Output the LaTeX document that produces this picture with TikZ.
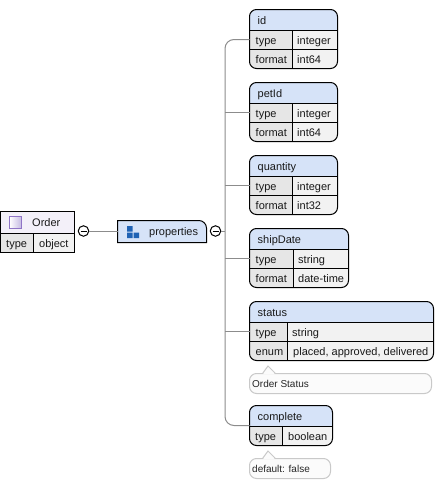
\documentclass[tikz,border=0pt]{standalone}
\usepackage{fontspec}
\setmainfont{Liberation Sans}
\definecolor{headblue}{HTML}{D6E3F8}
\definecolor{keygray}{HTML}{E6E6E6}
\definecolor{valgray}{HTML}{F2F2F2}
\definecolor{wiregray}{HTML}{8C8C8C}
\definecolor{notegray}{HTML}{C9C9C9}
\definecolor{notefill}{HTML}{FBFBFB}
\definecolor{orderhead}{HTML}{F3F0F9}
\definecolor{iconblue}{HTML}{1F62B4}
\definecolor{iconedge}{HTML}{8F74C6}
\definecolor{iconshade}{HTML}{C4B8E2}
\tikzset{
  lbl/.style={font=\fontsize{11}{13}\selectfont,inner sep=0pt,anchor=base west,text=black!90},
  notelbl/.style={font=\fontsize{10}{12}\selectfont,inner sep=0pt,anchor=base west,text=black!85},
  frame/.style={draw=black,line width=1pt,inner sep=0pt,outer sep=0pt,anchor=north west,rounded corners=7pt},
  sep/.style={draw=black,line width=1pt},
  wire/.style={draw=wiregray,line width=1pt},
  notebox/.style={draw=notegray,fill=notefill,line width=1pt,rounded corners=7pt},
  minusbtn/.style={circle,draw=black,line width=1pt,fill=white,minimum size=10.5pt,inner sep=0pt,outer sep=0pt},
}
% #1 name #2 title #3 xl #4 xc #5 xr #6 ytop
\newcommand{\proptwo}[8]{%
  \begin{scope}
    \clip[rounded corners=7pt] (#3,#6) rectangle (#5,#6+59);
    \fill[headblue] (#3,#6) rectangle (#5,#6+21);
    \fill[keygray] (#3,#6+21) rectangle (#4,#6+59);
    \fill[valgray] (#4,#6+21) rectangle (#5,#6+59);
  \end{scope}
  \draw[sep] (#3,#6+21) -- (#5,#6+21);
  \draw[sep] (#3,#6+40) -- (#5,#6+40);
  \draw[sep] (#4,#6+21) -- (#4,#6+59);
  \node[frame,minimum width={(#5-#3)*1pt},minimum height=59pt] (#1) at (#3,#6) {};
  \node[lbl] (#1-title) at (#3+8,#6+15) {#2};
  \node[lbl] (#1-k1) at (#3+6,#6+34.5) {type};
  \node[lbl] (#1-v1) at (#4+4.5,#6+34.5) {#7};
  \node[lbl] (#1-k2) at (#3+6,#6+53.5) {#8};
  \coordinate (#1-in) at (#3,#6+30);
}
% #1 left #2 right #3 top
\newcommand{\notepanel}[3]{%
  \draw[notebox] (#1,#3) rectangle (#2,#3+20);
  \fill[notefill] (#1+13.5,#3+0.8) -- (#1+18.5,#3-7.5) -- (#1+25.5,#3+0.8) -- cycle;
  \draw[draw=notegray,line width=1pt] (#1+13,#3) -- (#1+18.5,#3-7.5) -- (#1+26,#3);
}
\begin{document}
\begin{tikzpicture}[x=1pt,y=-1pt]
\useasboundingbox (0,0) rectangle (439,482);
\fill[white] (0,0) rectangle (439,482);

% property boxes
\proptwo{id}{id}{249.5}{292.5}{337.5}{9.5}{integer}{format}
\node[lbl] (id-v2) at (297,63) {int64};
\proptwo{petid}{petId}{249.5}{292.5}{337.5}{82.5}{integer}{format}
\node[lbl] (petid-v2) at (297,136) {int64};
\proptwo{quantity}{quantity}{249.5}{292.5}{337.5}{155.5}{integer}{format}
\node[lbl] (quantity-v2) at (297,209) {int32};
\proptwo{shipdate}{shipDate}{249.5}{293.5}{348.5}{228.5}{string}{format}
\node[lbl] (shipdate-v2) at (298,282) {date-time};
\proptwo{status}{status}{249.5}{287.5}{433.5}{301.5}{string}{enum}
\node[lbl] (status-v2) at (293,355) {placed, approved, delivered};

% complete (one row)
\begin{scope}
  \clip[rounded corners=7pt] (249.5,405.5) rectangle (332.5,445.5);
  \fill[headblue] (249.5,405.5) rectangle (332.5,426);
  \fill[keygray] (249.5,426) rectangle (282.5,445.5);
  \fill[valgray] (282.5,426) rectangle (332.5,445.5);
\end{scope}
\draw[sep] (249.5,426) -- (332.5,426);
\draw[sep] (282.5,426) -- (282.5,445.5);
\node[frame,minimum width=83pt,minimum height=40pt] (complete) at (249.5,405.5) {};
\node[lbl] (complete-title) at (257.5,420) {complete};
\node[lbl] (complete-k1) at (255,440) {type};
\node[lbl] (complete-v1) at (288,440) {boolean};
\coordinate (complete-in) at (249.5,425.5);

% notes
\notepanel{249.5}{431.5}{373.5}
\node[notelbl] (status-note) at (252,387) {Order Status};
\notepanel{249.5}{330.5}{458.5}
\node[notelbl] (complete-note) at (252,472) {default: false};

% Order
\fill[orderhead] (0.5,211.5) rectangle (74.5,233);
\fill[keygray] (0.5,233) rectangle (33.5,252.5);
\fill[valgray] (33.5,233) rectangle (74.5,252.5);
\draw[sep] (0.5,233) -- (74.5,233);
\draw[sep] (33.5,233) -- (33.5,252.5);
\node[frame,rounded corners=0pt,minimum width=74pt,minimum height=41pt] (order) at (0.5,211.5) {};
\node[rectangle,draw=iconedge,left color=white,right color=iconshade,line width=1pt,minimum size=12pt,inner sep=0pt] (order-icon) at (15.5,222.5) {};
\node[lbl] (order-title) at (32,226) {Order};
\node[lbl] (order-k) at (6,247) {type};
\node[lbl] (order-v) at (39,247) {object};

% properties
\draw[draw=black,fill=headblue,line width=1pt] (117.5,220.5) -- (199,220.5) .. controls (203,220.5) and (206.5,224) .. (206.5,228) -- (206.5,242.5) -- (117.5,242.5) -- cycle;
\coordinate (props-w) at (117.5,231);
\coordinate (props-e) at (206.5,231);
\fill[iconblue] (127,226) rectangle (132.5,231.5) (127,232.5) rectangle (132.5,238) (133.5,232.5) rectangle (139,238);
\node[lbl] (props-title) at (149,235) {properties};

% buttons and wires
\node[minusbtn] (minus-a) at (83.5,231) {};
\node[minusbtn] (minus-b) at (215.5,231) {};
\draw[black,line width=1pt] (80.5,231) -- (86.5,231) (212.5,231) -- (218.5,231);
\coordinate (spine) at (225,231);
\draw[wire] (minus-a) -- (props-w);
\draw[wire] (minus-b) -- (spine);
\draw[wire,rounded corners=9pt] (id-in) -- (id-in -| spine) -- (complete-in -| spine) -- (complete-in);
\draw[wire] (petid-in -| spine) -- (petid-in);
\draw[wire] (quantity-in -| spine) -- (quantity-in);
\draw[wire] (shipdate-in -| spine) -- (shipdate-in);
\draw[wire] (status-in -| spine) -- (status-in);
\end{tikzpicture}
\end{document}
